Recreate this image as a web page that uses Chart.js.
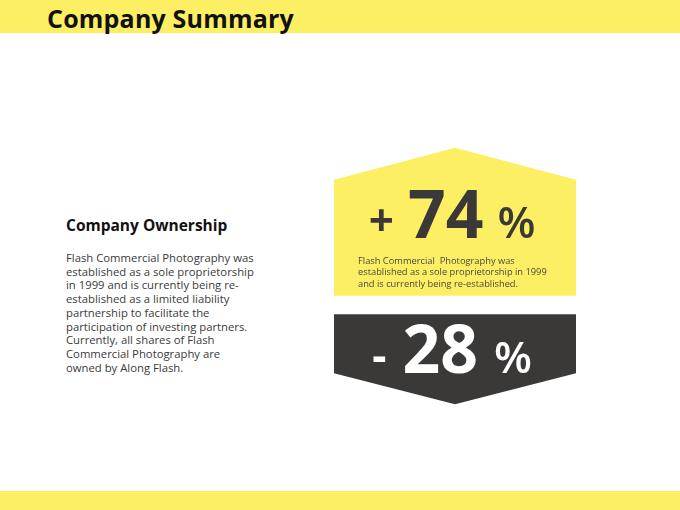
<!DOCTYPE html>
<html>
<head>
<meta charset="utf-8">
<script src="https://cdn.jsdelivr.net/npm/chart.js@4.4.1/dist/chart.umd.min.js"></script>
<style>
  html, body { margin: 0; padding: 0; background: #fff; }
  body { width: 680px; height: 510px; position: relative; overflow: hidden; font-family: "Open Sans", sans-serif; }
  .bar-top { position: absolute; left: 0; top: 0; width: 680px; height: 33px; background: #fcef64; }
  .bar-bottom { position: absolute; left: 0; top: 491px; width: 680px; height: 19px; background: #fcef64; }
  h1 { position: absolute; left: 47px; top: 1px; margin: 0; font-size: 25px; font-weight: 700; color: #111; letter-spacing: 0.2px; }
  h2 { position: absolute; left: 66px; top: 214px; margin: 0; font-size: 15.5px; font-weight: 700; color: #111; }
  .body-text { position: absolute; left: 66px; top: 251px; margin: 0; font-size: 11.3px; line-height: 13.7px; color: #3a3a3a; }
  #summaryChart { position: absolute; left: 334px; top: 140px; }
</style>
</head>
<body>
<div class="bar-top"></div>
<h1>Company Summary</h1>
<h2>Company Ownership</h2>
<p class="body-text">Flash Commercial Photography was<br>established as a sole proprietorship<br>in 1999 and is currently being re-<br>established as a limited liability<br>partnership to facilitate the<br>participation of investing partners.<br>Currently, all shares of Flash<br>Commercial Photography are<br>owned by Along Flash.</p>
<canvas id="summaryChart" width="242" height="298"></canvas>
<div class="bar-bottom"></div>

<script>
// Data
const labels = ['Increase', 'Decrease'];
const changes = [74, -28];
const captions = [
    ['Flash Commercial  Photography was', 'established as a sole proprietorship in 1999', 'and is currently being re-established.'],
    []
];

const badgeColors = ['#fcef64', '#3b3838'];

// Draws the two badge shapes (house / arrow) from the bar elements
const badgePlugin = {
    id: 'badges',
    afterDatasetsDraw(chart) {
        const ctx = chart.ctx;
        chart.data.datasets.forEach((ds, di) => {
            const meta = chart.getDatasetMeta(di);
            meta.data.forEach((bar, i) => {
                if (ds.data[i] == null) return;
                const left = Math.min(bar.base, bar.x);
                const right = Math.max(bar.base, bar.x);
                const top = bar.y - bar.height / 2;
                const bottom = bar.y + bar.height / 2;
                const mid = (left + right) / 2;
                const value = changes[i];
                ctx.save();
                ctx.beginPath();
                if (value >= 0) {
                    ctx.moveTo(left, top + 32);
                    ctx.lineTo(mid, top);
                    ctx.lineTo(right, top + 32);
                    ctx.lineTo(right, bottom);
                    ctx.lineTo(left, bottom);
                } else {
                    ctx.moveTo(left, top);
                    ctx.lineTo(right, top);
                    ctx.lineTo(right, bottom - 31);
                    ctx.lineTo(mid, bottom);
                    ctx.lineTo(left, bottom - 31);
                }
                ctx.closePath();
                ctx.fillStyle = badgeColors[i];
                ctx.fill();

                // big number: sign, value, percent
                const textColor = value >= 0 ? '#3b3838' : '#ffffff';
                const sign = value >= 0 ? '+' : '-';
                const num = String(Math.abs(value));
                const baseline = value >= 0 ? bar.y + 16 : bar.y + 14;
                ctx.fillStyle = textColor;
                ctx.textBaseline = 'alphabetic';
                ctx.font = '700 44px "Open Sans"';
                const wSign = ctx.measureText(sign).width;
                const wPct = ctx.measureText('%').width;
                ctx.font = '700 66px "Open Sans"';
                const wNum = ctx.measureText(num).width;
                const gap = value >= 0 ? 14 : 16;
                const total = wSign + gap + wNum + gap + wPct;
                let x = mid - 2 - total / 2;
                ctx.font = '700 44px "Open Sans"';
                ctx.fillText(sign, x, baseline - 2);
                x += wSign + gap;
                ctx.font = '700 66px "Open Sans"';
                ctx.fillText(num, x, baseline);
                x += wNum + gap;
                ctx.font = '600 44px "Open Sans"';
                ctx.fillText('%', x, baseline);

                // caption lines
                ctx.font = '9.3px "Open Sans"';
                ctx.fillStyle = '#4a4640';
                (captions[i] || []).forEach((line, li) => {
                    ctx.fillText(line, left + 24, baseline + 26 + li * 11.5);
                });
                ctx.restore();
            });
        });
    }
};

const summaryChart = new Chart(document.getElementById('summaryChart'), {
    type: 'bar',
    data: {
        labels: labels,
        datasets: [
            {
                label: labels[0],
                data: [[0, 1], null],
                backgroundColor: 'rgba(0,0,0,0)',
                borderWidth: 0,
                barThickness: 148
            },
            {
                label: labels[1],
                data: [null, [0, 1]],
                backgroundColor: 'rgba(0,0,0,0)',
                borderWidth: 0,
                barThickness: 90
            }
        ]
    },
    options: {
        indexAxis: 'y',
        responsive: false,
        animation: false,
        events: [],
        layout: { padding: { top: 13, bottom: 10, left: 0, right: 0 } },
        datasets: { bar: { grouped: false, skipNull: true } },
        plugins: { legend: { display: false }, tooltip: { enabled: false } },
        scales: {
            x: { display: false, min: 0, max: 1 },
            y: { display: false }
        }
    },
    plugins: [badgePlugin]
});
</script>
</body>
</html>
